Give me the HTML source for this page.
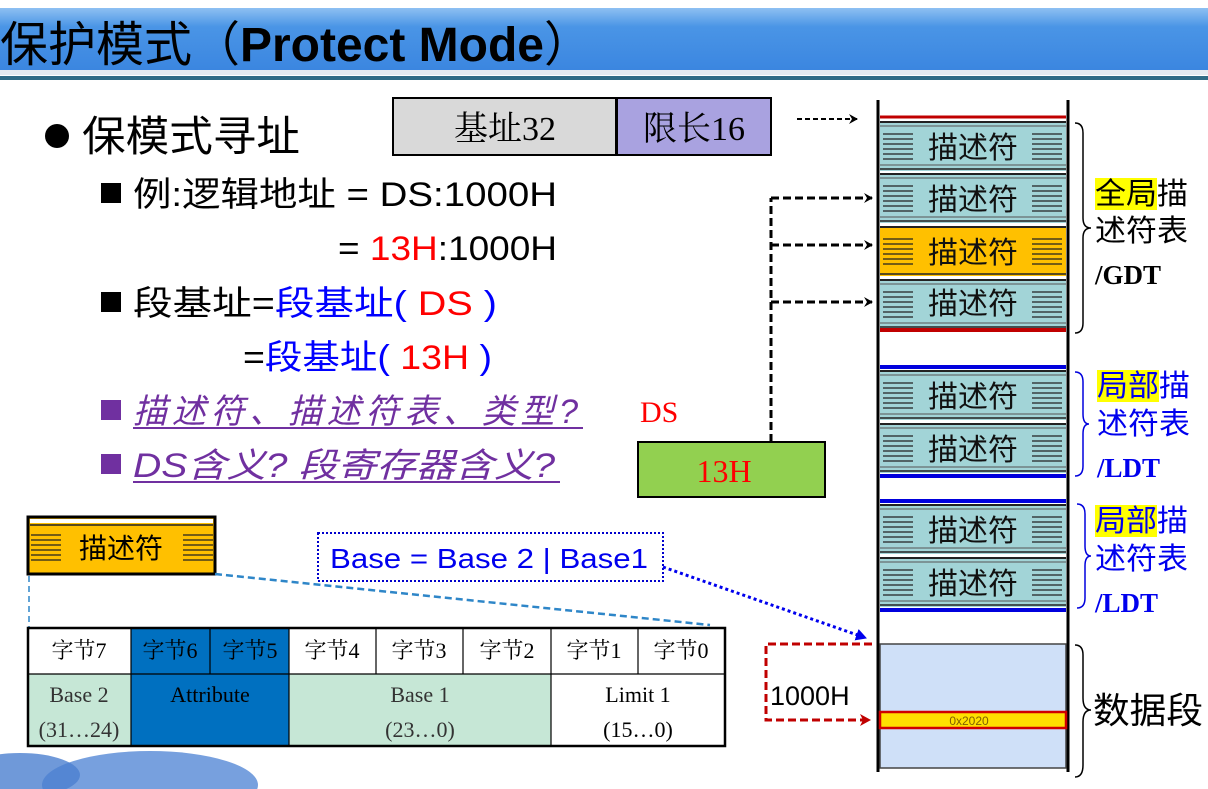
<!DOCTYPE html>
<html><head><meta charset="utf-8"><style>
html,body{margin:0;padding:0;background:#fff;}
svg{display:block;}
text{font-family:"Liberation Sans","Noto Sans CJK SC",sans-serif;}
.s{font-family:"Liberation Serif","Noto Serif CJK SC",serif;}
</style></head><body>
<svg width="1208" height="789" viewBox="0 0 1208 789" xmlns="http://www.w3.org/2000/svg">
<defs>
<linearGradient id="hd" x1="0" y1="0" x2="0" y2="1">
<stop offset="0" stop-color="#8ec0f2"/><stop offset="0.3" stop-color="#4a95e6"/><stop offset="1" stop-color="#3b86e0"/>
</linearGradient>
<g id="stripes">
<line x1="0" y1="0" x2="30" y2="0"/><line x1="0" y1="5" x2="30" y2="5"/><line x1="0" y1="10" x2="30" y2="10"/><line x1="0" y1="15" x2="30" y2="15"/><line x1="0" y1="20" x2="30" y2="20"/><line x1="0" y1="25" x2="30" y2="25"/>
</g>
<g id="row">
<rect x="0" y="0" width="186" height="50" fill="#a2d4d7"/>
<line x1="0" y1="1" x2="186" y2="1" stroke="#222" stroke-width="2"/>
<line x1="0" y1="5" x2="186" y2="5" stroke="#555" stroke-width="1"/>
<line x1="0" y1="44" x2="186" y2="44" stroke="#555" stroke-width="1"/>
<line x1="0" y1="48" x2="186" y2="48" stroke="#222" stroke-width="1.5"/>
<g stroke="#222" stroke-width="1.3"><use href="#stripes" x="3" y="13"/><use href="#stripes" x="152" y="13"/></g>
</g>
<g id="rowo">
<rect x="0" y="0" width="186" height="50" fill="#ffc000"/>
<line x1="0" y1="1" x2="186" y2="1" stroke="#222" stroke-width="2"/>
<line x1="0" y1="48" x2="186" y2="48" stroke="#222" stroke-width="1.5"/>
<g stroke="#222" stroke-width="1.3"><use href="#stripes" x="3" y="13"/><use href="#stripes" x="152" y="13"/></g>
</g>
<marker id="ah" markerWidth="10" markerHeight="10" refX="8" refY="5" orient="auto" markerUnits="userSpaceOnUse"><path d="M0,0 L9,5 L0,10 L3,5z" fill="#000"/></marker>
<marker id="ahb" markerWidth="12" markerHeight="12" refX="10" refY="6" orient="auto" markerUnits="userSpaceOnUse"><path d="M0,0 L11,6 L0,12z" fill="#0000ee"/></marker>
<marker id="ahr" markerWidth="12" markerHeight="12" refX="10" refY="6" orient="auto" markerUnits="userSpaceOnUse"><path d="M0,0 L11,6 L0,12 L3,6z" fill="#c00000"/></marker>
</defs>

<rect x="0" y="8" width="1208" height="62" fill="url(#hd)"/>
<rect x="0" y="70" width="1208" height="5" fill="#e4eaf0"/>
<rect x="0" y="76" width="1208" height="4" fill="#2f6b86"/>
<text x="0" y="61" font-size="48" fill="#000" textLength="592" lengthAdjust="spacingAndGlyphs">保护模式（<tspan font-weight="bold">Protect Mode</tspan>）</text>

<circle cx="57" cy="136" r="12" fill="#000"/>
<text x="82" y="151" font-size="42" textLength="218" lengthAdjust="spacingAndGlyphs">保模式寻址</text>
<rect x="101" y="183" width="20" height="20" fill="#000"/>
<text x="133" y="206" font-size="34" textLength="424" lengthAdjust="spacingAndGlyphs">例:逻辑地址 =  DS:1000H</text>
<text x="338" y="260" font-size="34" textLength="219" lengthAdjust="spacingAndGlyphs">= <tspan fill="#f00">13H</tspan>:1000H</text>
<rect x="101" y="292" width="20" height="20" fill="#000"/>
<text x="133" y="315" font-size="34" textLength="364" lengthAdjust="spacingAndGlyphs">段基址=<tspan fill="#00f">段基址(</tspan>  <tspan fill="#f00">DS</tspan>   <tspan fill="#00f">)</tspan></text>
<text x="243" y="369" font-size="34" textLength="249" lengthAdjust="spacingAndGlyphs">=<tspan fill="#00f">段基址(</tspan> <tspan fill="#f00">13H</tspan> <tspan fill="#00f">)</tspan></text>
<rect x="101" y="400" width="20" height="20" fill="#7030a0"/>
<text x="133" y="423" font-size="34" font-style="italic" fill="#7030a0" textLength="445" lengthAdjust="spacing">描述符、描述符表、类型?</text>
<line x1="133" y1="428" x2="583" y2="428" stroke="#7030a0" stroke-width="2"/>
<rect x="101" y="454" width="20" height="20" fill="#7030a0"/>
<text x="133" y="477" font-size="34" font-style="italic" fill="#7030a0" textLength="422" lengthAdjust="spacingAndGlyphs">DS含义? 段寄存器含义?</text>
<line x1="133" y1="482" x2="560" y2="482" stroke="#7030a0" stroke-width="2"/>

<rect x="393" y="98" width="223" height="57" fill="#d9d9d9" stroke="#000" stroke-width="2"/>
<text class="s" x="505" y="140" font-size="34" text-anchor="middle">基址32</text>
<rect x="617" y="98" width="154" height="57" fill="#a9a2e0" stroke="#000" stroke-width="2"/>
<text class="s" x="694" y="140" font-size="34" text-anchor="middle">限长16</text>
<line x1="797" y1="119" x2="857" y2="119" stroke="#000" stroke-width="2" stroke-dasharray="5,3" marker-end="url(#ah)"/>

<text class="s" x="640" y="422" font-size="30" fill="#f00">DS</text>
<rect x="638" y="442" width="187" height="55" fill="#92d050" stroke="#000" stroke-width="2"/>
<text class="s" x="724" y="482" font-size="32" fill="#f00" text-anchor="middle">13H</text>
<g stroke="#000" stroke-width="3" fill="none" stroke-dasharray="8,4">
<line x1="771" y1="442" x2="771" y2="198"/>
<line x1="771" y1="198" x2="872" y2="198" marker-end="url(#ah)"/>
<line x1="771" y1="245" x2="872" y2="245" marker-end="url(#ah)"/>
<line x1="771" y1="302" x2="872" y2="302" marker-end="url(#ah)"/>
</g>

<line x1="878" y1="100" x2="878" y2="772" stroke="#000" stroke-width="3"/>
<line x1="1068" y1="100" x2="1068" y2="772" stroke="#000" stroke-width="3"/>
<line x1="880" y1="117" x2="1066" y2="117" stroke="#c00000" stroke-width="3"/>
<use href="#row" x="880" y="121"/>
<use href="#row" x="880" y="173"/>
<use href="#rowo" x="880" y="226"/>
<use href="#row" x="880" y="279"/>
<line x1="880" y1="330" x2="1066" y2="330" stroke="#c00000" stroke-width="4"/>
<line x1="880" y1="367" x2="1066" y2="367" stroke="#0000dd" stroke-width="4"/>
<use href="#row" x="880" y="370"/>
<use href="#row" x="880" y="423"/>
<line x1="880" y1="476" x2="1066" y2="476" stroke="#0000dd" stroke-width="4"/>
<line x1="880" y1="501" x2="1066" y2="501" stroke="#0000dd" stroke-width="4"/>
<use href="#row" x="880" y="504"/>
<use href="#row" x="880" y="557"/>
<line x1="880" y1="610" x2="1066" y2="610" stroke="#0000dd" stroke-width="4"/>
<g font-size="30" text-anchor="middle" fill="#111">
<text x="973" y="158">描述符</text><text x="973" y="210">描述符</text><text x="973" y="263">描述符</text><text x="973" y="314">描述符</text>
<text x="973" y="407">描述符</text><text x="973" y="460">描述符</text><text x="973" y="541">描述符</text><text x="973" y="594">描述符</text>
</g>
<rect x="880" y="644" width="186" height="124" fill="#cfe0f8" stroke="#444" stroke-width="1.5"/>
<rect x="880" y="712" width="186" height="16" fill="#ffe000" stroke="#d00000" stroke-width="2.5"/>
<text x="969" y="725" font-size="12" fill="#806000" text-anchor="middle">0x2020</text>

<g fill="none" stroke="#000" stroke-width="1.5">
<path d="M1075,123 q8,0 8,10 v85 q0,10 8,10 q-8,0 -8,10 v85 q0,10 -8,10"/>
<path d="M1075,645 q8,0 8,10 v43 q0,12 8,12 q-8,0 -8,12 v43 q0,12 -8,12"/>
</g>
<g fill="none" stroke="#0000dd" stroke-width="1.5">
<path d="M1075,372 q8,0 8,10 v32 q0,10 6,10 q-6,0 -6,10 v32 q0,10 -8,10"/>
<path d="M1077,504 q8,0 8,10 v32 q0,10 6,10 q-6,0 -6,10 v32 q0,10 -8,10"/>
</g>
<rect x="1095" y="178" width="62" height="32" fill="#ffff00"/>
<text x="1095" y="204" font-size="30" textLength="93" lengthAdjust="spacingAndGlyphs">全局描</text>
<text x="1095" y="241" font-size="30" textLength="93" lengthAdjust="spacingAndGlyphs">述符表</text>
<text class="s" x="1095" y="284" font-size="27" font-weight="bold">/GDT</text>
<rect x="1097" y="370" width="62" height="32" fill="#ffff00"/>
<text x="1097" y="396" font-size="30" fill="#0000ee" textLength="93" lengthAdjust="spacingAndGlyphs">局部描</text>
<text x="1097" y="434" font-size="30" fill="#0000ee" textLength="93" lengthAdjust="spacingAndGlyphs">述符表</text>
<text class="s" x="1097" y="477" font-size="27" font-weight="bold" fill="#0000ee">/LDT</text>
<rect x="1095" y="505" width="62" height="32" fill="#ffff00"/>
<text x="1095" y="531" font-size="30" fill="#0000ee" textLength="93" lengthAdjust="spacingAndGlyphs">局部描</text>
<text x="1095" y="569" font-size="30" fill="#0000ee" textLength="93" lengthAdjust="spacingAndGlyphs">述符表</text>
<text class="s" x="1095" y="612" font-size="27" font-weight="bold" fill="#0000ee">/LDT</text>
<text x="1093" y="723" font-size="36" textLength="110" lengthAdjust="spacingAndGlyphs">数据段</text>

<path d="M872,644 H766 V720 H870" fill="none" stroke="#c00000" stroke-width="3" stroke-dasharray="8,4" marker-end="url(#ahr)"/>
<text x="770" y="705" font-size="27">1000H</text>

<rect x="28" y="517" width="187" height="57" fill="#ffc000" stroke="#000" stroke-width="3"/>
<rect x="30" y="519" width="183" height="4" fill="#fff"/>
<line x1="30" y1="525" x2="213" y2="525" stroke="#222" stroke-width="1.5"/>
<g stroke="#222" stroke-width="1.3"><use href="#stripes" x="31" y="535"/><use href="#stripes" x="183" y="535"/></g>
<text x="121" y="558" font-size="28" text-anchor="middle">描述符</text>

<rect x="318" y="533" width="345" height="48" fill="#fff" stroke="#0000cc" stroke-width="2" stroke-dasharray="2,2"/>
<text x="330" y="568" font-size="28" fill="#0000ee" textLength="318" lengthAdjust="spacingAndGlyphs">Base = Base 2 | Base1</text>
<line x1="663" y1="567" x2="866" y2="638" stroke="#0000ee" stroke-width="3" stroke-dasharray="3,3" marker-end="url(#ahb)"/>

<line x1="215" y1="574" x2="710" y2="625" stroke="#2e86c8" stroke-width="2.5" stroke-dasharray="7,4"/>
<line x1="29" y1="576" x2="29" y2="628" stroke="#2e86c8" stroke-width="1.5" stroke-dasharray="6,4"/>

<rect x="131" y="628" width="158" height="46" fill="#0070c0"/>
<rect x="28" y="674" width="103" height="72" fill="#c6e7d6"/>
<rect x="131" y="674" width="158" height="72" fill="#0070c0"/>
<rect x="289" y="674" width="262" height="72" fill="#c6e7d6"/>
<g stroke="#000" stroke-width="1.2">
<line x1="28" y1="674" x2="725" y2="674"/>
<line x1="131" y1="628" x2="131" y2="746"/><line x1="210" y1="628" x2="210" y2="674"/>
<line x1="289" y1="628" x2="289" y2="746"/><line x1="376" y1="628" x2="376" y2="674"/>
<line x1="463" y1="628" x2="463" y2="674"/><line x1="551" y1="628" x2="551" y2="746"/>
<line x1="638" y1="628" x2="638" y2="674"/>
</g>
<rect x="28" y="628" width="697" height="118" fill="none" stroke="#000" stroke-width="2.5"/>
<g font-size="22" text-anchor="middle">
<text class="s" x="79" y="658">字节7</text><text class="s" x="170" y="658">字节6</text><text class="s" x="250" y="658">字节5</text>
<text class="s" x="332" y="658">字节4</text><text class="s" x="419" y="658">字节3</text><text class="s" x="507" y="658">字节2</text>
<text class="s" x="594" y="658">字节1</text><text class="s" x="681" y="658">字节0</text>
<text class="s" x="79" y="702" fill="#333">Base 2</text><text class="s" x="79" y="737" fill="#333">(31…24)</text>
<text class="s" x="210" y="702">Attribute</text>
<text class="s" x="420" y="702" fill="#333">Base 1</text><text class="s" x="420" y="737" fill="#333">(23…0)</text>
<text class="s" x="638" y="702">Limit 1</text><text class="s" x="638" y="737">(15…0)</text>
</g>

<ellipse cx="150" cy="785" rx="108" ry="34" fill="#5f8fd8" opacity="0.85"/>
<ellipse cx="20" cy="775" rx="60" ry="22" fill="#4b7fd0" opacity="0.8"/>
</svg>
</body></html>
